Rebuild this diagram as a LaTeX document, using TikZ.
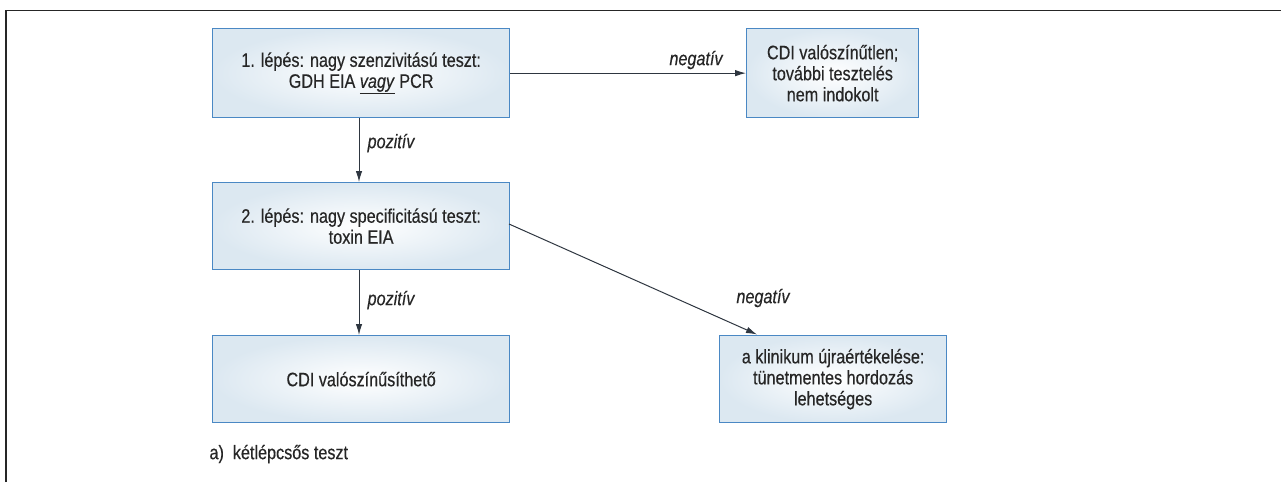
\documentclass[tikz,border=0pt]{standalone}
\usepackage{fontspec}
\setmainfont{Liberation Sans}[FakeStretch=0.83,FakeBold=0.4]
\usetikzlibrary{arrows.meta}
\definecolor{boxline}{HTML}{4A88C4}
\definecolor{boxfill}{HTML}{DCE8F1}
\definecolor{txt}{HTML}{262626}
\definecolor{arr}{HTML}{2E3640}
\tikzset{
  x=1pt, y=-1pt,
  fbox/.style={draw=boxline, line width=1.3pt, inner color=white, outer color=boxfill,
    text=txt, align=center, font=\fontsize{19.5}{21}\selectfont, anchor=north west},
  conn/.style={draw=arr, line width=1pt, -{Latex[length=11pt,width=6.5pt]}},
  lbl/.style={text=txt, font=\fontsize{19.5}{21}\selectfont\itshape},
}
\begin{document}
\begin{tikzpicture}
\useasboundingbox (0,0) rectangle (1281,482);
\draw[line width=1.3pt, color=black!85] (6,482) -- (6,10.5) -- (1281,10.5);
\node[fbox, minimum width=297pt, minimum height=89pt] (s1) at (212,28) {1. lépés: nagy szenzivitású teszt:\\GDH EIA \underline{\textit{vagy}} PCR};
\node[fbox, minimum width=172pt, minimum height=89pt] (n1) at (746,28) {CDI valószínűtlen;\\további tesztelés\\nem indokolt};
\node[fbox, minimum width=297pt, minimum height=87pt] (s2) at (212,182) {2. lépés: nagy specificitású teszt:\\toxin EIA};
\node[fbox, minimum width=297pt, minimum height=87pt] (p2) at (212,335) {CDI valószínűsíthető};
\node[fbox, minimum width=227pt, minimum height=87pt] (n2) at (719,335) {a klinikum újraértékelése:\\tünetmentes hordozás\\lehetséges};
\draw[conn] (s1.east) -- (n1.west);
\node[lbl] (nl1) at (696,60) {negatív};
\draw[conn] (s1.south -| 359,0) -- (s2.north -| 359,0);
\node[lbl] (pl1) at (391,143) {pozitív};
\draw[conn] (s2.south -| 359,0) -- (p2.north -| 359,0);
\node[lbl] (pl2) at (391,300) {pozitív};
\coordinate (d1) at (509,224);
\coordinate (d2) at (757,334.5);
\draw[conn] (d1) -- (d2);
\node[lbl] (nl2) at (763,298) {negatív};
\node[text=txt, font=\fontsize{19.5}{21}\selectfont, anchor=west] (cap) at (206,454) {a)\ \ kétlépcsős teszt};
\end{tikzpicture}
\end{document}
